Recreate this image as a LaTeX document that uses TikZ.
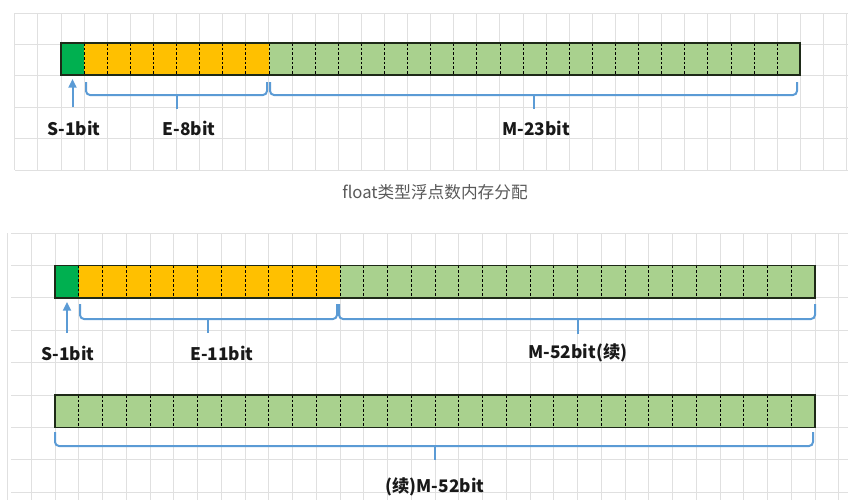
\documentclass[tikz,border=0pt]{standalone}
\usepackage{fontspec}
\setmainfont{Noto Sans CJK SC}
\usetikzlibrary{arrows.meta}
\definecolor{signgreen}{HTML}{00B050}
\definecolor{expyellow}{HTML}{FFC000}
\definecolor{mantgreen}{HTML}{A9D18E}
\definecolor{bracecol}{HTML}{5B9BD5}
\definecolor{gridcol}{HTML}{E0E0E0}
\definecolor{capgray}{HTML}{595959}
\definecolor{framecol}{HTML}{1E2A18}
\begin{document}
\begin{tikzpicture}[x=0.75pt,y=-0.75pt,>={Triangle[width=6pt,length=6.5pt]},
	lab/.style={font=\bfseries\fontsize{13}{15}\selectfont,text=black!90},
	brace/.style={draw=bracecol,line width=1.5pt,rounded corners=3pt},
	sep/.style={dash pattern=on 2pt off 1.5pt,line width=0.6pt},
	frame/.style={draw=framecol,line width=1.2pt},
	grid line/.style={draw=gridcol,line width=0.7pt}]
	\useasboundingbox (0,0) rectangle (848,500);
	% grids
	\foreach \i in {-2,...,34} \draw[grid line] ({61+\i*23.1},13) -- ({61+\i*23.1},170);
	\foreach \j in {0,...,5} \draw[grid line] (15,{13+\j*31.4}) -- (848,{13+\j*31.4});
	\foreach \i in {-2,...,33} \draw[grid line] ({55+\i*23.75},233) -- ({55+\i*23.75},500);
	\foreach \j in {0,...,8} \draw[grid line] (11,{233+\j*32.4}) -- (848,{233+\j*32.4});
	% bars: x0/y0/cell width/height/sign cells/exponent cells
	\foreach \bx/\by/\bw/\bh/\ns/\ne in {61/43/23.1/32/1/8, 55/265.4/23.75/32.4/1/11, 55/395/23.75/32.4/0/0}{
		\fill[signgreen] (\bx,\by) rectangle ({\bx+\ns*\bw},{\by+\bh});
		\fill[expyellow] ({\bx+\ns*\bw},\by) rectangle ({\bx+(\ns+\ne)*\bw},{\by+\bh});
		\fill[mantgreen] ({\bx+(\ns+\ne)*\bw},\by) rectangle ({\bx+32*\bw},{\by+\bh});
		\foreach \i in {1,...,31} \draw[sep] ({\bx+\i*\bw},\by) -- ({\bx+\i*\bw},{\by+\bh});
		\draw[frame] (\bx,\by) rectangle ({\bx+32*\bw},{\by+\bh});
	}
	% braces: left/right/top/bottom/tick x/tick end
	\foreach \xl/\xr/\yt/\yb/\xm/\ym in {86/267/82/95/177/109, 270/797/82/95/534/109,
		80/337/304/319/208/333, 339/815/304/319/578/334, 55/813/432/446/435/460}{
		\draw[brace] (\xl,\yt) -- (\xl,\yb) -- (\xr,\yb) -- (\xr,\yt);
		\draw[brace,rounded corners=0pt] (\xm,\yb) -- (\xm,\ym);
	}
	% labels
	\node[lab] (sign1) at (74,128) {S-1bit};
	\node[lab] (exp1) at (189,128) {E-8bit};
	\node[lab] (mant1) at (536,128) {M-23bit};
	\node[font=\fontsize{12.5}{14}\selectfont,text=capgray] (cap) at (435,192) {float类型浮点数内存分配};
	\node[lab] (sign2) at (68,353) {S-1bit};
	\node[lab] (exp2) at (222,353) {E-11bit};
	\node[lab] (mant2) at (578,353) {M-52bit(续)};
	\node[lab] (mant3) at (435,487) {(续)M-52bit};
	% sign arrows
	\coordinate (s1) at (72.5,79);
	\coordinate (s1t) at (72.5,107);
	\coordinate (s2) at (67,302);
	\coordinate (s2t) at (67,333);
	\draw[->,bracecol,line width=1.5pt] (s1t) -- (s1);
	\draw[->,bracecol,line width=1.5pt] (s2t) -- (s2);
\end{tikzpicture}
\end{document}
